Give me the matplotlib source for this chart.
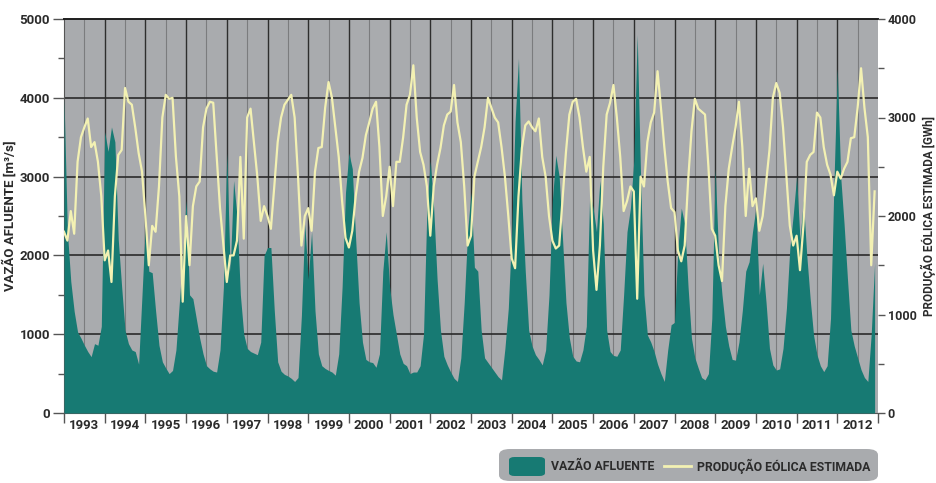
import matplotlib
matplotlib.use("Agg")
import matplotlib.pyplot as plt
import numpy as np
from matplotlib.patches import FancyBboxPatch
from matplotlib.lines import Line2D
from matplotlib.ticker import MultipleLocator, FixedLocator, NullFormatter

plt.rcParams['font.family'] = ['Roboto', 'DejaVu Sans']

years = list(range(1993, 2013))
year_labels = [str(y) for y in years]

# Vazão afluente (m3/s), monthly Jan 1993 - Dec 2012
vazao = [
    4000, 2300, 1670, 1290, 1030, 950, 860, 780, 715, 880, 860, 1100,      # 1993
    3570, 3320, 3630, 3440, 2200, 1600, 1050, 880, 800, 780, 620, 1500,    # 1994
    2400, 1800, 1780, 1300, 860, 650, 570, 500, 540, 800, 1400, 2000,      # 1995
    2700, 1500, 1450, 1200, 950, 750, 600, 560, 530, 520, 800, 1600,       # 1996
    3300, 1800, 2950, 2500, 1500, 1000, 820, 780, 760, 740, 900, 2000,     # 1997
    2100, 2100, 1300, 650, 530, 490, 470, 440, 400, 450, 1240, 2400,       # 1998
    1700, 2300, 1300, 750, 600, 565, 540, 520, 480, 750, 1600, 2800,       # 1999
    3300, 3100, 2200, 1400, 900, 680, 650, 640, 580, 750, 1800, 2300,      # 2000
    1600, 1250, 1000, 750, 630, 600, 500, 520, 520, 600, 1000, 2600,       # 2001
    3200, 2600, 1700, 1050, 720, 610, 520, 440, 400, 700, 1400, 2300,      # 2002
    2800, 1850, 1800, 1050, 700, 640, 580, 520, 460, 420, 820, 1330,       # 2003
    2300, 3700, 4500, 2700, 1800, 1050, 850, 740, 680, 610, 800, 1500,     # 2004
    2700, 3270, 3000, 2200, 1400, 950, 720, 660, 650, 800, 1100, 2800,     # 2005
    2600, 2300, 2950, 2400, 1050, 780, 730, 720, 800, 1500, 2300, 2600,    # 2006
    3200, 4800, 3000, 1500, 990, 900, 780, 620, 500, 400, 800, 1120,       # 2007
    1150, 2100, 2600, 2400, 1600, 950, 700, 570, 450, 420, 500, 1200,      # 2008
    3100, 2000, 1500, 1100, 850, 680, 670, 900, 1300, 1800, 1920, 2300,    # 2009
    2600, 1500, 1900, 1400, 820, 610, 545, 560, 820, 1330, 2090, 2510,     # 2010
    3000, 2200, 2700, 2000, 1450, 990, 740, 600, 525, 600, 1200, 2900,     # 2011
    4370, 3000, 2400, 1700, 1050, 850, 700, 550, 450, 400, 1000, 1900,     # 2012
]

# Produção eólica estimada (GWh), monthly Jan 1993 - Dec 2012
eolica = [
    1840, 1750, 2050, 1820, 2550, 2800, 2900, 2990, 2700, 2750, 2550, 2200,  # 1993
    1550, 1650, 1330, 2200, 2620, 2670, 3300, 3160, 3130, 2900, 2640, 2450,  # 1994
    2000, 1500, 1900, 1840, 2300, 3000, 3230, 3190, 3200, 2600, 2200, 1130,  # 1995
    2000, 1500, 2100, 2300, 2350, 2900, 3090, 3160, 3150, 2620, 2080, 1700,  # 1996
    1330, 1600, 1600, 1750, 2600, 1770, 3000, 3090, 2750, 2400, 1950, 2100,  # 1997
    2000, 1870, 2300, 2750, 3000, 3130, 3180, 3230, 3000, 2400, 1700, 2000,  # 1998
    2080, 1850, 2450, 2690, 2700, 3100, 3360, 3200, 2900, 2600, 2150, 1780,  # 1999
    1680, 1850, 2200, 2450, 2590, 2820, 2950, 3090, 3160, 2700, 2000, 2200,  # 2000
    2500, 2100, 2550, 2550, 2800, 3130, 3230, 3530, 3000, 2650, 2520, 2300,  # 2001
    1800, 2300, 2520, 2690, 2920, 3030, 3060, 3330, 2950, 2750, 2300, 1700,  # 2002
    1800, 2400, 2550, 2700, 2900, 3200, 3100, 3000, 2950, 2700, 2400, 2000,  # 2003
    1570, 1470, 2200, 2690, 2920, 2960, 2900, 2860, 2990, 2600, 2400, 2000,  # 2004
    1750, 1670, 1700, 2180, 2650, 3030, 3160, 3190, 3000, 2700, 2450, 2600,  # 2005
    1650, 1250, 1700, 2500, 3030, 3150, 3330, 3000, 2600, 2050, 2150, 2300,  # 2006
    2250, 1160, 2400, 2300, 2750, 2950, 3050, 3470, 3100, 2700, 2350, 2080,  # 2007
    2040, 1650, 1540, 1700, 2350, 2860, 3190, 3090, 3060, 3030, 2500, 1870,  # 2008
    1800, 1500, 1340, 2100, 2480, 2700, 2900, 3160, 2700, 2000, 2480, 2100,  # 2009
    2180, 1850, 2000, 2330, 2670, 3200, 3350, 3250, 2900, 2400, 1900, 1700,  # 2010
    1800, 1450, 1900, 2550, 2620, 2650, 3050, 3000, 2700, 2520, 2420, 2210,  # 2011
    2450, 2380, 2480, 2550, 2790, 2800, 3100, 3500, 3100, 2800, 1500, 2250,  # 2012
]

t = years[0] + np.arange(len(vazao)) / 12.0

W, H = 936, 483
fig = plt.figure(figsize=(W / 100, H / 100), dpi=100)
fig.patch.set_facecolor('white')

def fx(px):
    return px / W

def fy(py):
    return 1 - py / H

ax = fig.add_axes([fx(64), fy(413), fx(878) - fx(64), fy(19) - fy(413)])
ax.set_facecolor('#a9abae')

teal = '#177a73'
yellow = '#f3f1b3'
txtc = '#2b2b2b'
fs = 9.5

ax.fill_between(t, vazao, 0, color=teal, lw=0, zorder=3)
ax.set_xlim(years[0], years[-1] + 1)
ax.set_ylim(0, 5000)

# grid
for y in years[1:]:
    ax.axvline(y, color='#2e2e2e', lw=1.0, zorder=1)
for y in years:
    ax.axvline(y + 0.5, color='#7b7c7e', lw=0.8, zorder=1)
for v in [1000, 2000, 3000, 4000]:
    ax.axhline(v, color='#2a2a2a', lw=1.2, zorder=1)

# left axis ticks
ax.yaxis.set_major_locator(MultipleLocator(1000))
ax.yaxis.set_minor_locator(MultipleLocator(500))
ax.tick_params(axis='y', which='major', direction='out', length=8, width=1,
               color='#555555', labelsize=fs, labelcolor=txtc, pad=2)
ax.tick_params(axis='y', which='minor', direction='out', length=4, width=1, color='#555555')
for lab in ax.get_yticklabels():
    lab.set_fontweight('bold')

# x axis: ticks at year boundaries, labels in the middle of the years
ax.xaxis.set_major_locator(FixedLocator(years + [years[-1] + 1]))
ax.xaxis.set_major_formatter(NullFormatter())
ax.xaxis.set_minor_locator(FixedLocator([y + 0.5 for y in years]))
ax.set_xticklabels(year_labels, minor=True)
ax.tick_params(axis='x', which='major', direction='out', length=7, width=1, color='#555555')
ax.tick_params(axis='x', which='minor', length=0, labelsize=fs, labelcolor=txtc, pad=4)
for lab in ax.get_xticklabels(minor=True):
    lab.set_fontweight('bold')

ax.spines['right'].set_visible(False)
ax.spines['top'].set_color('#1e1e1e')
ax.spines['top'].set_linewidth(1.4)
ax.spines['left'].set_color('#555555')
ax.spines['bottom'].set_color('#555555')
ax.spines['bottom'].set_linewidth(0.8)

ax.set_ylabel('VAZÃO AFLUENTE [m³/s]', fontsize=fs, color=txtc, fontweight='bold')
ax.yaxis.set_label_coords(-0.058, 0.5)

ax2 = ax.twinx()
ax2.set_ylim(0, 4000)
ax2.plot(t, eolica, color=yellow, lw=1.6, zorder=5)
ax2.yaxis.set_major_locator(MultipleLocator(1000))
ax2.yaxis.set_minor_locator(MultipleLocator(500))
ax2.tick_params(axis='y', which='major', direction='out', length=5, width=1,
                color='#555555', labelsize=9, labelcolor=txtc, pad=2)
ax2.tick_params(axis='y', which='minor', direction='out', length=4, width=1, color='#555555')
for lab in ax2.get_yticklabels():
    lab.set_fontweight('bold')
for s in ['top', 'bottom', 'left', 'right']:
    ax2.spines[s].set_visible(False)
ax2.set_ylabel('PRODUÇÃO EÓLICA ESTIMADA [GWh]', fontsize=8.5, color=txtc,
               fontweight='bold', rotation=90)
ax2.yaxis.set_label_coords(1.0525, 0.5)

# legend box
box = FancyBboxPatch((fx(499), fy(481)), fx(878) - fx(499), fy(449) - fy(481),
                     boxstyle='round,pad=0,rounding_size=0.012', transform=fig.transFigure,
                     facecolor='#a9abae', edgecolor='none', mutation_aspect=H / W * 2)
fig.patches.append(box)
patch = FancyBboxPatch((fx(509), fy(476)), fx(545) - fx(509), fy(457) - fy(476),
                       boxstyle='round,pad=0,rounding_size=0.006', transform=fig.transFigure,
                       facecolor=teal, edgecolor='none', mutation_aspect=H / W * 2)
fig.patches.append(patch)
fig.text(fx(551), fy(466), 'VAZÃO AFLUENTE', fontsize=8.8, color=txtc,
         fontweight='bold', va='center', ha='left')
fig.lines.append(Line2D([fx(664), fx(691)], [fy(466), fy(466)], transform=fig.transFigure,
                        color=yellow, lw=2))
fig.text(fx(697), fy(466), 'PRODUÇÃO EÓLICA ESTIMADA', fontsize=8.8, color=txtc,
         fontweight='bold', va='center', ha='left')

fig.savefig('out.png', dpi=100)
